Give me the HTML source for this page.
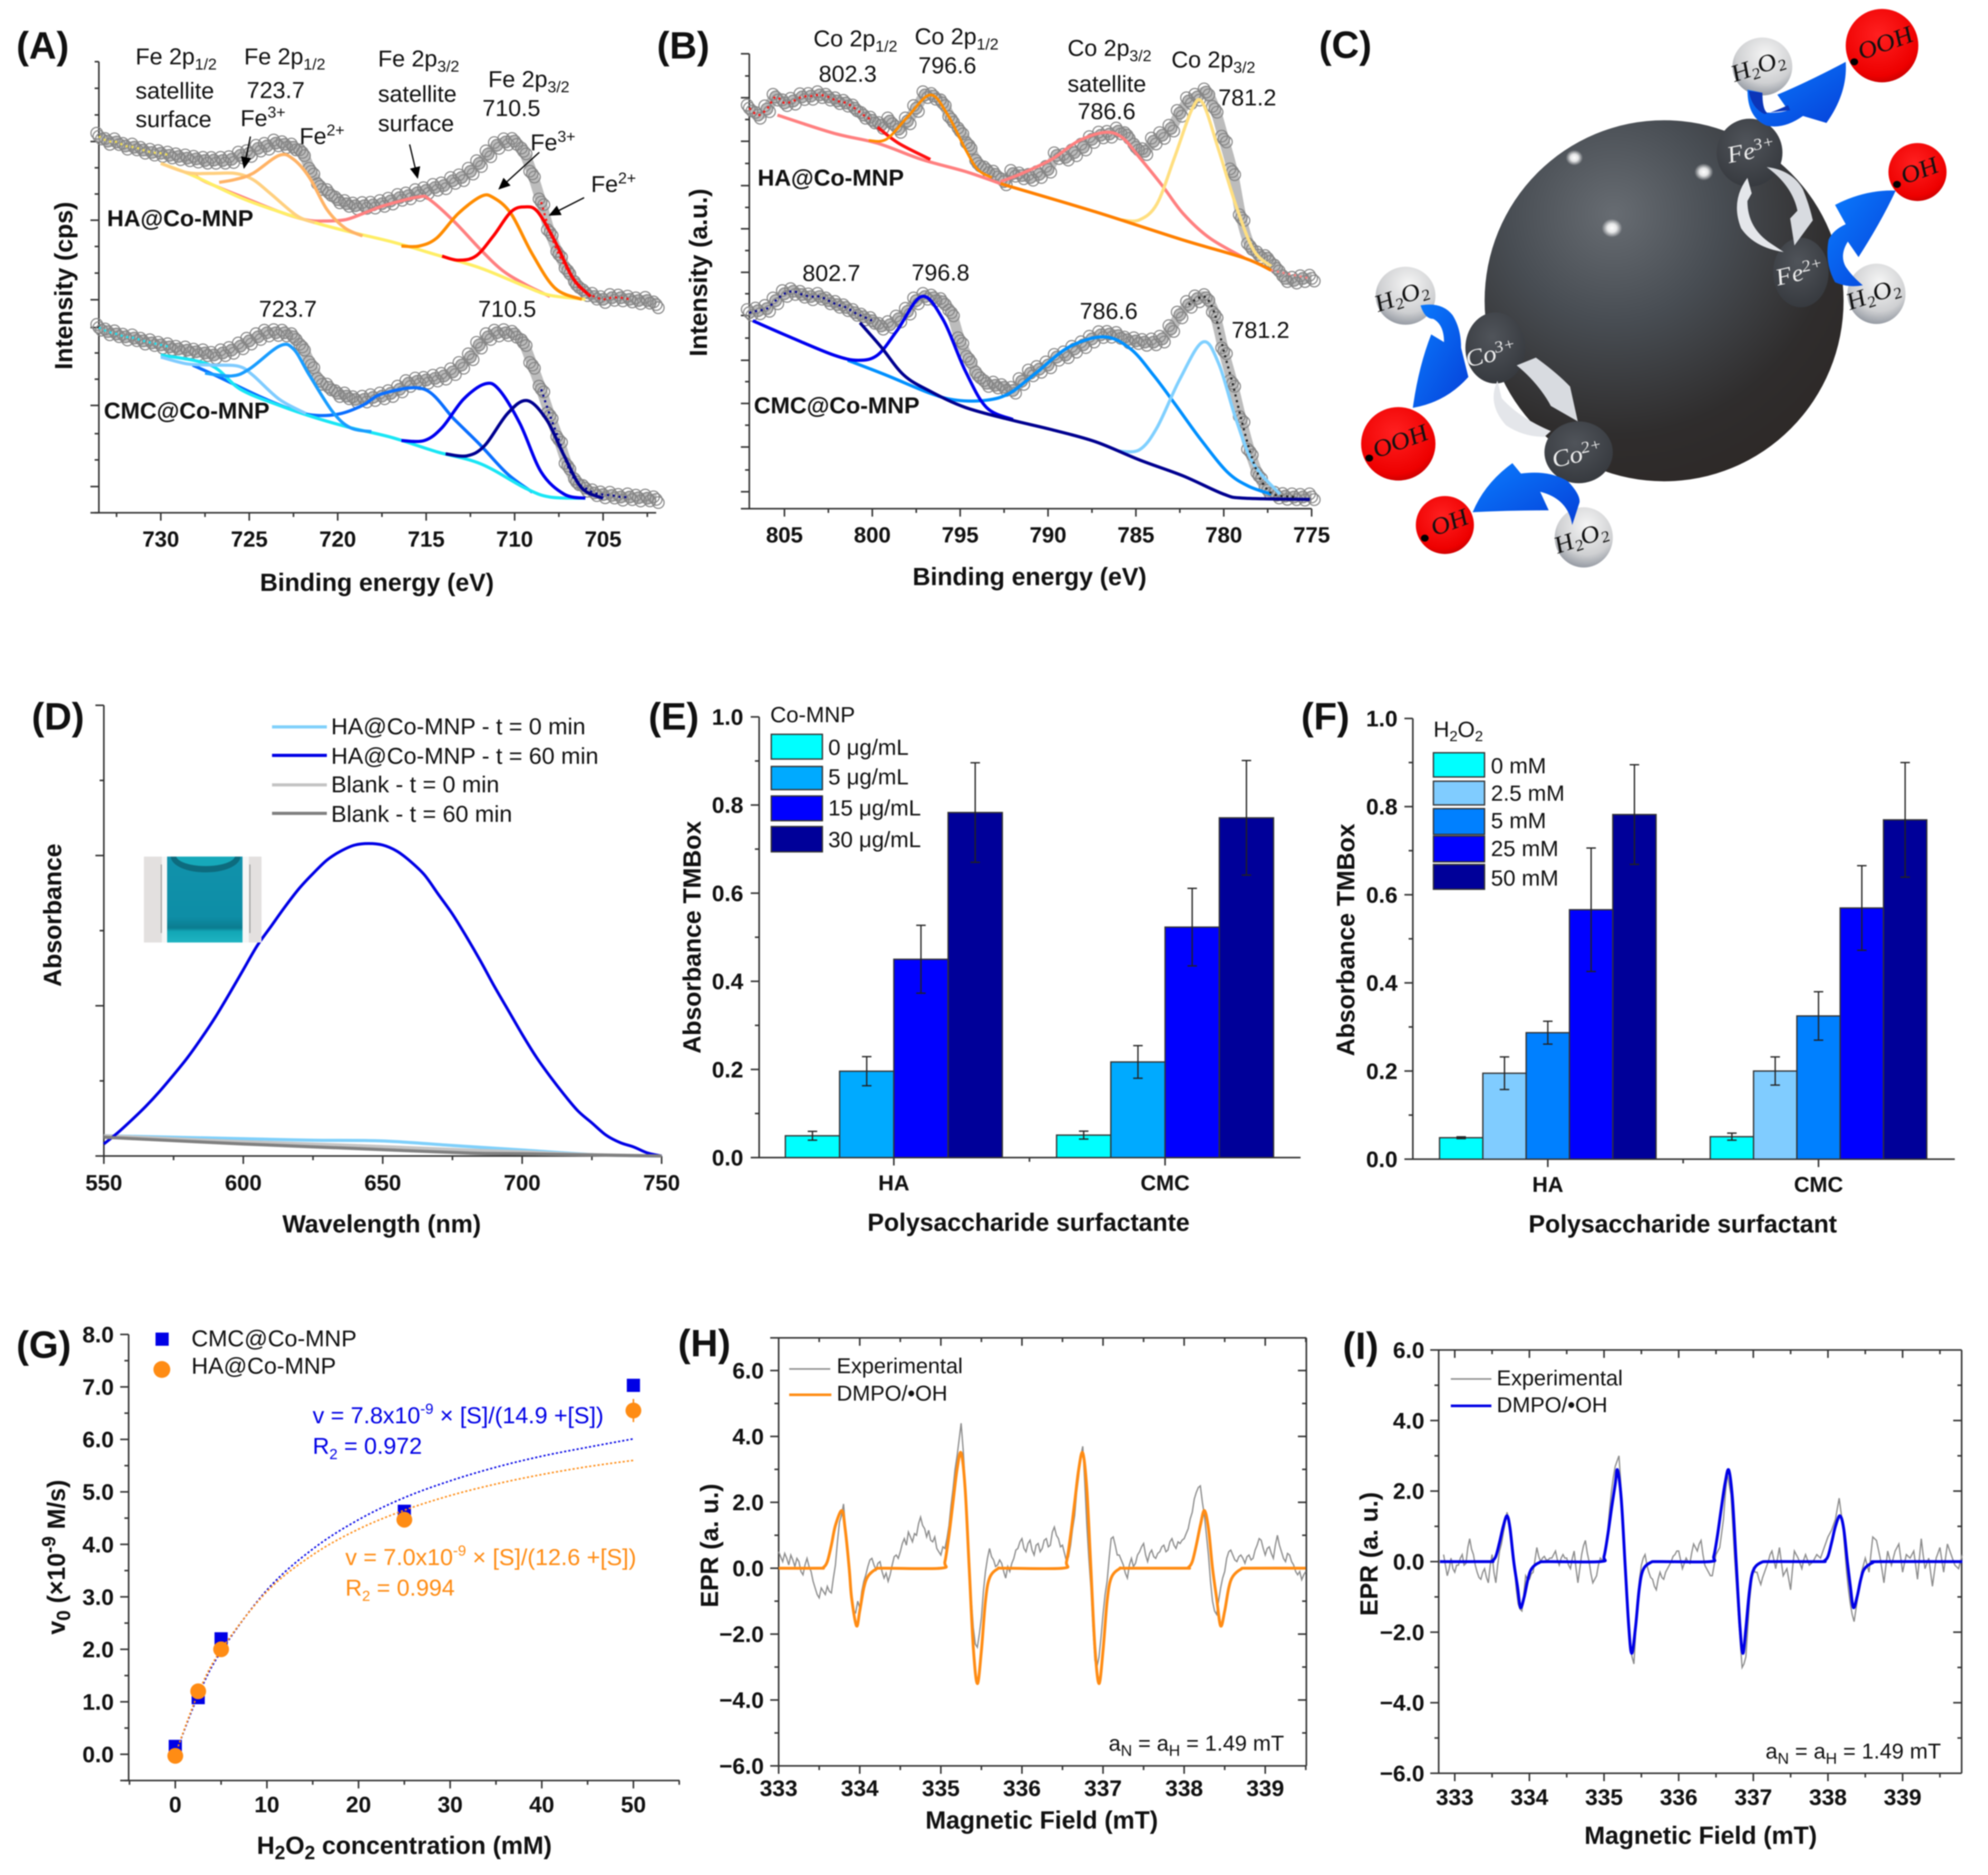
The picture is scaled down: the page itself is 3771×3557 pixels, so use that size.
<!DOCTYPE html>
<html lang="en">
<head>
<meta charset="utf-8">
<title>Co-MNP characterisation figure</title>
<style>
html,body{margin:0;padding:0;background:#fff}
svg{display:block;font-family:"Liberation Sans",sans-serif;filter:blur(1px)}
text{fill:#111}
.p{font-size:72px;font-weight:bold}
.l{font-size:44px}
.e{font-size:41px}
.b{font-size:47px;font-weight:bold}
.g{font-size:44px;font-weight:bold}
.s{font-family:"Liberation Serif",serif;font-style:italic;font-size:62px;text-anchor:middle}
</style>
</head>
<body>
<svg id="figure" width="3771" height="3557" viewBox="0 0 3771 3557" xmlns="http://www.w3.org/2000/svg">
<defs>
<marker id="ah" markerWidth="9" markerHeight="8" refX="8" refY="4" orient="auto"><path d="M0 0L9 4L0 8Z" fill="#000"/></marker>
<radialGradient id="bigS" cx="36%" cy="26%" r="85%"><stop offset="0" stop-color="#676c72"/><stop offset=".35" stop-color="#484d53"/><stop offset=".72" stop-color="#2f2d2d"/><stop offset="1" stop-color="#2e2826"/></radialGradient>
<radialGradient id="darkS" cx="45%" cy="35%" r="75%"><stop offset="0" stop-color="#50545a"/><stop offset="1" stop-color="#33363b"/></radialGradient>
<radialGradient id="redS" cx="45%" cy="35%" r="70%"><stop offset="0" stop-color="#ff2020"/><stop offset=".8" stop-color="#ee0000"/><stop offset="1" stop-color="#c00000"/></radialGradient>
<radialGradient id="whiteS" cx="55%" cy="30%" r="75%"><stop offset="0" stop-color="#f5f5f5"/><stop offset=".65" stop-color="#cfd0d2"/><stop offset="1" stop-color="#8a909a"/></radialGradient>
<radialGradient id="glow"><stop offset="0" stop-color="#fff"/><stop offset=".45" stop-color="#fff" stop-opacity=".85"/><stop offset="1" stop-color="#fff" stop-opacity="0"/></radialGradient>
<linearGradient id="blueA" x1="0" y1="0" x2="1" y2="1"><stop offset="0" stop-color="#0a7cff"/><stop offset="1" stop-color="#0640d8"/></linearGradient>
<linearGradient id="vial" x1="0" y1="0" x2="0" y2="1"><stop offset="0" stop-color="#1192ac"/><stop offset=".7" stop-color="#0e8ea6"/><stop offset=".83" stop-color="#0b7c90"/><stop offset=".87" stop-color="#12a6b6"/><stop offset="1" stop-color="#1fb4c2"/></linearGradient>
<clipPath id="insetClip"><rect x="273" y="1625" width="223" height="163"/></clipPath>
</defs>
<rect width="3771" height="3557" fill="#fff"/>

<text class="p" x="31" y="111">(A)</text>
<text class="p" x="1246" y="111">(B)</text>
<text class="p" x="2502" y="110">(C)</text>
<text class="p" x="60" y="1384">(D)</text>
<text class="p" x="1230" y="1384">(E)</text>
<text class="p" x="2468" y="1384">(F)</text>
<text class="p" x="31" y="2576">(G)</text>
<text class="p" x="1286" y="2573">(H)</text>
<text class="p" x="2547" y="2578">(I)</text>

<g id="panelA"></g>
<g>
<text class="l" x="257" y="122">Fe 2p<tspan font-size="30" dy="10">1/2</tspan></text>
<text class="l" x="257" y="187">satellite</text>
<text class="l" x="257" y="241">surface</text>
<text class="l" x="463" y="122">Fe 2p<tspan font-size="30" dy="10">1/2</tspan></text>
<text class="l" x="468" y="186">723.7</text>
<text class="l" x="456" y="239">Fe<tspan font-size="30" dy="-16">3+</tspan></text>
<text class="l" x="568" y="273">Fe<tspan font-size="30" dy="-16">2+</tspan></text>
<text class="l" x="717" y="126">Fe 2p<tspan font-size="30" dy="10">3/2</tspan></text>
<text class="l" x="717" y="193">satellite</text>
<text class="l" x="717" y="249">surface</text>
<text class="l" x="926" y="165">Fe 2p<tspan font-size="30" dy="10">3/2</tspan></text>
<text class="l" x="915" y="220">710.5</text>
<text class="l" x="1006" y="285">Fe<tspan font-size="30" dy="-16">3+</tspan></text>
<text class="l" x="1121" y="364">Fe<tspan font-size="30" dy="-16">2+</tspan></text>
<text class="g" x="203" y="429">HA@Co-MNP</text>
<text class="g" x="197" y="794">CMC@Co-MNP</text>
<text class="l" x="491" y="601">723.7</text>
<text class="l" x="907" y="601">710.5</text>
<line x1="475" y1="259" x2="463" y2="318" stroke="#000" stroke-width="2.5" marker-end="url(#ah)"/>
<line x1="777" y1="274" x2="792" y2="337" stroke="#000" stroke-width="2.5" marker-end="url(#ah)"/>
<line x1="1023" y1="289" x2="947" y2="358" stroke="#000" stroke-width="2.5" marker-end="url(#ah)"/>
<line x1="1108" y1="375" x2="1043" y2="408" stroke="#000" stroke-width="2.5" marker-end="url(#ah)"/>
<text class="b" x="715" y="1121" text-anchor="middle">Binding energy (eV)</text>
<text class="b" transform="translate(137,542) rotate(-90)" text-anchor="middle">Intensity (cps)</text>
</g>

<g id="panelB"></g>
<g>
<text class="l" x="1543" y="88">Co 2p<tspan font-size="30" dy="10">1/2</tspan></text>
<text class="l" x="1553" y="155">802.3</text>
<text class="l" x="1735" y="84">Co 2p<tspan font-size="30" dy="10">1/2</tspan></text>
<text class="l" x="1742" y="139">796.6</text>
<text class="l" x="2025" y="106">Co 2p<tspan font-size="30" dy="10">3/2</tspan></text>
<text class="l" x="2025" y="174">satellite</text>
<text class="l" x="2044" y="226">786.6</text>
<text class="l" x="2222" y="128">Co 2p<tspan font-size="30" dy="10">3/2</tspan></text>
<text class="l" x="2311" y="200">781.2</text>
<text class="g" x="1437" y="352">HA@Co-MNP</text>
<text class="l" x="1522" y="533">802.7</text>
<text class="l" x="1729" y="532">796.8</text>
<text class="l" x="2048" y="605">786.6</text>
<text class="l" x="2336" y="641">781.2</text>
<text class="g" x="1430" y="784">CMC@Co-MNP</text>
<text class="b" x="1953" y="1110" text-anchor="middle">Binding energy (eV)</text>
<text class="b" transform="translate(1341,517) rotate(-90)" text-anchor="middle">Intensity (a.u.)</text>
</g>

<g transform="translate(2500,0) scale(.8106,.7334)">
<ellipse cx="810" cy="778" rx="420" ry="467" fill="url(#bigS)"/>
<circle cx="600" cy="408" r="20" fill="url(#glow)"/>
<circle cx="903" cy="445" r="22" fill="url(#glow)"/>
<circle cx="688" cy="590" r="24" fill="url(#glow)"/>
<ellipse cx="1010" cy="395" rx="77" ry="88" fill="url(#darkS)"/>
<ellipse cx="1130" cy="705" rx="65" ry="90" fill="url(#darkS)"/>
<ellipse cx="415" cy="900" rx="70" ry="92" fill="url(#darkS)"/>
<ellipse cx="610" cy="1170" rx="80" ry="80" fill="url(#darkS)"/>
<ellipse cx="1040" cy="172" rx="70" ry="75" fill="url(#whiteS)"/>
<ellipse cx="1307" cy="760" rx="68" ry="78" fill="url(#whiteS)"/>
<ellipse cx="205" cy="765" rx="70" ry="75" fill="url(#whiteS)"/>
<ellipse cx="622" cy="1390" rx="68" ry="78" fill="url(#whiteS)"/>
<ellipse cx="1320" cy="118" rx="85" ry="95" fill="url(#redS)"/>
<ellipse cx="188" cy="1148" rx="87" ry="95" fill="url(#redS)"/>
<ellipse cx="1403" cy="445" rx="68" ry="75" fill="url(#redS)"/>
<ellipse cx="297" cy="1358" rx="68" ry="75" fill="url(#redS)"/>
<path d="M1005 232L1040 240Q1040 285 1052 292Q1085 292 1100 285L1075 245Q1150 210 1235 160Q1240 240 1190 318L1135 300Q1090 335 1050 325Q1005 305 1005 232Z" fill="url(#blueA)"/>
<path d="M1008 235L1040 240Q1040 280 1050 292L1105 285L1100 272Q1065 290 1045 295Q1015 280 1008 235Z" fill="#0b35b8"/>
<path d="M1275 738Q1240 745 1210 730Q1185 680 1195 620Q1205 595 1235 580L1210 530Q1280 490 1352 493Q1320 570 1265 665L1240 625Q1220 660 1235 690Q1250 715 1275 738Z" fill="url(#blueA)"/>
<path d="M240 790Q290 780 315 815Q335 850 335 900L352 975Q300 1040 222 1055Q235 950 265 865L295 885Q295 840 270 825Q250 825 240 790Z" fill="url(#blueA)"/>
<path d="M595 1358Q585 1290 520 1272L540 1320Q450 1320 362 1325Q390 1250 455 1198L475 1225Q540 1215 585 1245Q615 1280 612 1300Z" fill="url(#blueA)"/>
<path d="M1050 432Q1110 440 1135 490Q1150 530 1158 570L1115 635L1105 565L1122 545Q1110 480 1050 432Z" fill="#d8dbe0"/>
<path d="M1005 460Q965 520 990 590Q1020 640 1090 652L1060 630Q1005 590 1005 520L1015 500Z" fill="#e4e6ea"/>
<path d="M465 945L510 925Q560 965 590 1000L608 1090L545 1050L540 1040Q510 985 465 945Z" fill="#d8dbe0"/>
<path d="M420 985Q395 1045 440 1100Q480 1130 530 1130L545 1115Q470 1080 430 1030Z" fill="#e4e6ea"/>
<text class="s" transform="translate(1036,190) rotate(-20)">H<tspan font-size="40" dy="10">2</tspan><tspan dy="-10">O</tspan><tspan font-size="40" dy="10">2</tspan></text>
<text class="s" transform="translate(1306,780) rotate(-20)">H<tspan font-size="40" dy="10">2</tspan><tspan dy="-10">O</tspan><tspan font-size="40" dy="10">2</tspan></text>
<text class="s" transform="translate(202,785) rotate(-20)">H<tspan font-size="40" dy="10">2</tspan><tspan dy="-10">O</tspan><tspan font-size="40" dy="10">2</tspan></text>
<text class="s" transform="translate(622,1410) rotate(-20)">H<tspan font-size="40" dy="10">2</tspan><tspan dy="-10">O</tspan><tspan font-size="40" dy="10">2</tspan></text>
<circle cx="1255" cy="160" r="9" fill="#000"/>
<text class="s" transform="translate(1335,130) rotate(-22)">OOH</text>
<circle cx="120" cy="1185" r="9" fill="#000"/>
<text class="s" transform="translate(200,1160) rotate(-22)">OOH</text>
<circle cx="1355" cy="477" r="9" fill="#000"/>
<text class="s" transform="translate(1415,460) rotate(-22)">OH</text>
<circle cx="250" cy="1392" r="9" fill="#000"/>
<text class="s" transform="translate(315,1370) rotate(-22)">OH</text>
<text class="s" style="fill:#eee" transform="translate(1018,410) rotate(-12)">Fe<tspan font-size="42" dy="-20">3+</tspan></text>
<text class="s" style="fill:#eee" transform="translate(1132,725) rotate(-14)">Fe<tspan font-size="42" dy="-20">2+</tspan></text>
<text class="s" style="fill:#eee" transform="translate(410,935) rotate(-14)">Co<tspan font-size="42" dy="-20">3+</tspan></text>
<text class="s" style="fill:#eee" transform="translate(612,1195) rotate(-14)">Co<tspan font-size="42" dy="-20">2+</tspan></text>
</g>

<g id="panelD"></g>
<g clip-path="url(#insetClip)">
<rect x="273" y="1625" width="223" height="163" fill="#e3e0df"/>
<rect x="307" y="1625" width="10" height="163" fill="#f6f6f6"/>
<rect x="460" y="1625" width="12" height="163" fill="#f6f6f6"/>
<rect x="305" y="1640" width="2" height="130" fill="#999"/>
<rect x="473" y="1640" width="2" height="130" fill="#999"/>
<rect x="317" y="1625" width="143" height="163" fill="url(#vial)"/>
<ellipse cx="390" cy="1625" rx="66" ry="30" fill="#0d6b7e"/>
<ellipse cx="390" cy="1623" rx="56" ry="20" fill="#16a9ba"/>
</g>
<g>
<line x1="516" x2="620" y1="1379" y2="1379" stroke="#7fd0fb" stroke-width="6"/>
<line x1="516" x2="620" y1="1433" y2="1433" stroke="#0000e6" stroke-width="6"/>
<line x1="516" x2="620" y1="1489" y2="1489" stroke="#c4c4c4" stroke-width="6"/>
<line x1="516" x2="620" y1="1543" y2="1543" stroke="#808080" stroke-width="6"/>
<text class="l" x="628" y="1393">HA@Co-MNP - t = 0 min</text>
<text class="l" x="628" y="1449">HA@Co-MNP - t = 60 min</text>
<text class="l" x="628" y="1503">Blank  - t = 0 min</text>
<text class="l" x="628" y="1559">Blank  - t = 60 min</text>
<text class="b" x="724" y="2338" text-anchor="middle">Wavelength (nm)</text>
<text class="b" transform="translate(116,1736) rotate(-90)" text-anchor="middle">Absorbance</text>
</g>

<g id="panelE"></g>
<g>
<text class="l" style="font-size:42px" x="1461" y="1370">Co-MNP</text>
<rect x="1463" y="1393" width="97" height="47" fill="#00ffff" stroke="#333" stroke-width="2.5"/>
<rect x="1463" y="1454" width="97" height="44" fill="#00aaff" stroke="#333" stroke-width="2.5"/>
<rect x="1463" y="1510" width="97" height="47" fill="#0000ff" stroke="#333" stroke-width="2.5"/>
<rect x="1463" y="1568" width="97" height="48" fill="#000099" stroke="#333" stroke-width="2.5"/>
<text class="l" style="font-size:42px" x="1571" y="1432">0 μg/mL</text>
<text class="l" style="font-size:42px" x="1571" y="1488">5 μg/mL</text>
<text class="l" style="font-size:42px" x="1571" y="1547">15 μg/mL</text>
<text class="l" style="font-size:42px" x="1571" y="1607">30 μg/mL</text>
<text class="b" x="1951" y="2335" text-anchor="middle">Polysaccharide surfactante</text>
<text class="b" transform="translate(1329,1778) rotate(-90)" text-anchor="middle">Absorbance TMBox</text>
</g>

<g id="panelF"></g>
<g>
<text class="l" style="font-size:42px" x="2719" y="1398">H<tspan font-size="28" dy="8">2</tspan><tspan dy="-8">O</tspan><tspan font-size="28" dy="8">2</tspan></text>
<rect x="2719" y="1428" width="97" height="46" fill="#00ffff" stroke="#333" stroke-width="2.5"/>
<rect x="2719" y="1482" width="97" height="45" fill="#80ccff" stroke="#333" stroke-width="2.5"/>
<rect x="2719" y="1534" width="97" height="49" fill="#0080ff" stroke="#333" stroke-width="2.5"/>
<rect x="2719" y="1586" width="97" height="49" fill="#0000ff" stroke="#333" stroke-width="2.5"/>
<rect x="2719" y="1640" width="97" height="47" fill="#000099" stroke="#333" stroke-width="2.5"/>
<text class="l" style="font-size:42px" x="2828" y="1467">0 mM</text>
<text class="l" style="font-size:42px" x="2828" y="1519">2.5 mM</text>
<text class="l" style="font-size:42px" x="2828" y="1571">5 mM</text>
<text class="l" style="font-size:42px" x="2828" y="1624">25 mM</text>
<text class="l" style="font-size:42px" x="2828" y="1680">50 mM</text>
<text class="b" x="3192" y="2338" text-anchor="middle">Polysaccharide surfactant</text>
<text class="b" transform="translate(2569,1783) rotate(-90)" text-anchor="middle">Absorbance TMBox</text>
</g>

<g id="panelG"></g>
<g>
<rect x="295" y="2528" width="25" height="25" fill="#0000e6"/>
<circle cx="307" cy="2598" r="16" fill="#ff8c14"/>
<text class="l" x="363" y="2554">CMC@Co-MNP</text>
<text class="l" x="363" y="2606">HA@Co-MNP</text>
<text class="l" style="fill:#0000e6" x="593" y="2700">v = 7.8x10<tspan font-size="28" dy="-18">-9</tspan><tspan dy="18"> × [S]/(14.9 +[S])</tspan></text>
<text class="l" style="fill:#0000e6" x="593" y="2758">R<tspan font-size="28" dy="10">2</tspan><tspan dy="-10"> = 0.972</tspan></text>
<text class="l" style="fill:#ff8c14" x="655" y="2969">v = 7.0x10<tspan font-size="28" dy="-18">-9</tspan><tspan dy="18"> × [S]/(12.6 +[S])</tspan></text>
<text class="l" style="fill:#ff8c14" x="655" y="3027">R<tspan font-size="28" dy="10">2</tspan><tspan dy="-10"> = 0.994</tspan></text>
<text class="b" x="767" y="3517" text-anchor="middle">H<tspan font-size="36" dy="10">2</tspan><tspan dy="-10">O</tspan><tspan font-size="36" dy="10">2</tspan><tspan dy="-10"> concentration (mM)</tspan></text>
<text class="b" transform="translate(123,2954) rotate(-90)" text-anchor="middle">v<tspan font-size="36" dy="10">0</tspan><tspan dy="-10"> (×10</tspan><tspan font-size="36" dy="-18">-9</tspan><tspan dy="18"> M/s)</tspan></text>
</g>

<g id="panelH"></g>
<g>
<line x1="1497" x2="1575" y1="2597" y2="2597" stroke="#909090" stroke-width="3"/>
<line x1="1497" x2="1577" y1="2646" y2="2646" stroke="#ff8c14" stroke-width="5"/>
<text class="e" x="1587" y="2605">Experimental</text>
<text class="e" x="1587" y="2657">DMPO/•OH</text>
<text class="e" x="2103" y="3321">a<tspan font-size="30" dy="10">N</tspan><tspan dy="-10"> = a</tspan><tspan font-size="30" dy="10">H</tspan><tspan dy="-10"> = 1.49 mT</tspan></text>
<text class="b" x="1976" y="3469" text-anchor="middle">Magnetic Field (mT)</text>
<text class="b" transform="translate(1362,2932) rotate(-90)" text-anchor="middle">EPR (a. u.)</text>
</g>

<g id="panelI"></g>
<g>
<line x1="2752" x2="2829" y1="2616" y2="2616" stroke="#909090" stroke-width="3"/>
<line x1="2752" x2="2829" y1="2667" y2="2667" stroke="#0000e6" stroke-width="5"/>
<text class="e" x="2839" y="2628">Experimental</text>
<text class="e" x="2839" y="2679">DMPO/•OH</text>
<text class="e" x="3349" y="3336">a<tspan font-size="30" dy="10">N</tspan><tspan dy="-10"> = a</tspan><tspan font-size="30" dy="10">H</tspan><tspan dy="-10"> = 1.49 mT</tspan></text>
<text class="b" x="3226" y="3498" text-anchor="middle">Magnetic Field (mT)</text>
<text class="b" transform="translate(2613,2948) rotate(-90)" text-anchor="middle">EPR (a. u.)</text>
</g>
</svg>

<script>
/* ---------- Panel A: Fe 2p (intensity in arbitrary counts) ---------- */
const feStart = 733.5;
const feStep = -0.5;
const feHaData = [933,921,919,909,906,899,893,891,886,883,879,877,873,874,873,876,886,891,903,909,916,913,906,893,846,809,793,776,766,761,761,763,766,773,781,786,793,799,806,811,823,831,846,866,889,911,919,921,896,840,770,695,640,600,565,546,536,529,533,533,529,526,526,516];
const feCmcData = [459,449,443,436,433,426,421,416,411,406,403,399,396,391,396,403,413,426,436,446,446,446,436,411,366,326,311,296,289,281,281,286,289,296,306,321,326,329,333,339,349,366,386,416,436,446,446,443,421,366,306,241,181,116,76,61,49,45,43,39,39,37,36,33];
const feHaBaseBE = [730,728.2,725.5,723.3,721.3,719.3,716.9,714.4,711.9,709.4,708,706];
const feHaBaseI = [866,836,781,746,719,696,671,639,606,561,539,529];
const feHaSat32BE = [728.2,727.5,725.3,723.3,721.8,720.8,719.6,718.6,717.4,715.4,714.8,713.4,711.9,710.7,709.4,708];
const feHaSat32I = [841,821,781,746,726,723,726,741,761,783,776,721,651,601,566,536];
const feHaSat12BE = [730,728.5,727.2,725.8,724.8,723.8,722.3,721.3];
const feHaSat12I = [866,843,841,841,826,791,736,719];
const feHaP12BE = [726.7,725.8,724.8,723.3,722.5,721.6,720.6,719.6,718.6];
const feHaP12I = [819,826,841,886,876,831,751,706,686];
const feHaFe3BE = [716.4,715.4,714.4,713.2,711.9,711.2,710.2,709,707.7,706.2];
const feHaFe3I = [661,661,681,741,784,781,741,641,556,529];
const feHaFe2BE = [714.1,713.2,712.2,711.2,710.2,709.4,708.7,707.7,706.7,705.7];
const feHaFe2I = [636,626,636,686,746,758,746,671,581,536];
const feCmcBaseBE = [730,727.2,725.5,723.3,721.3,719.3,716.9,714.4,711.9,709.4,708,706];
const feCmcBaseI = [391,366,306,266,236,211,186,151,121,61,39,36];
const feCmcSat12BE = [730,728.5,727,725.6,724.8,723.3,721.8];
const feCmcSat12I = [386,369,366,363,341,281,246];
const feCmcP12BE = [727.5,726,725,723.3,722.5,721.6,720.3,719.3,718.1];
const feCmcP12I = [346,339,356,413,406,341,251,211,201];
const feCmcSat32BE = [728.2,726.7,724.3,722.3,721.1,719.8,718.6,717.4,715.1,713.4,711.9,710.4,709];
const feCmcSat32I = [366,336,286,251,241,246,266,296,306,231,166,96,51];
const feCmcFe3BE = [716.4,715.1,714.1,712.9,711.7,710.9,709.7,708.5,707.2,706];
const feCmcFe3I = [179,179,211,281,319,306,221,101,46,36];
const feCmcFe2BE = [713.9,712.7,711.7,710.4,709.3,708.2,707.2,706.2,705];
const feCmcFe2I = [146,141,166,246,278,231,141,61,36];
const feXMajor = [730,725,720,715,710,705];
const feXMinor = [732.5,727.5,722.5,717.5,712.5,707.5,702.5];
const feXLabels = ['730','725','720','715','710','705'];
const feYMajor = [65,266,459,528,725,920];
const feYMinor = [0,131,196,331,396,594,660,790,855,986,1052,1118];

/* ---------- Panel B: Co 2p ---------- */
const coStart = 807;
const coStep = -0.5;
const coHaData = [993,976,991,1021,1006,1011,1021,1023,1026,1021,1011,1006,993,976,963,951,961,941,961,993,1026,1023,1006,966,936,901,856,841,829,811,831,826,821,829,841,876,871,883,896,916,926,929,936,926,896,886,911,926,943,981,1011,1021,1033,991,916,836,721,651,629,621,596,571,566,571,571];
const coCmcData = [486,491,496,516,533,539,531,526,526,516,506,499,486,476,466,453,456,471,489,516,526,523,513,486,416,371,331,311,306,301,293,316,336,346,356,376,381,396,406,421,431,433,429,419,416,413,413,421,446,481,506,521,523,481,391,311,221,141,81,46,33,31,29,29,29];
const coHaPinkBaseBE = [805.4,802.2,799.7,797.2,794.7,792.7];
const coHaPinkBaseI = [976,931,906,866,836,806];
const coHaOrangeBaseBE = [792.7,787.3,782.3,778.8,777.3];
const coHaOrangeBaseI = [806,736,666,621,591];
const coHaTailBE = [777.3,775.1];
const coHaTailI = [591,571];
const coHaSatBE = [792.7,791.5,789.8,788.3,786.8,785.8,784.8,783.5,782.3,780.8,778.8];
const coHaSatI = [811,831,866,911,933,921,871,801,731,671,621];
const coHaP32BE = [785.8,784.8,783.8,782.8,781.8,781.2,780.3,779.3,778.3,777.3];
const coHaP32I = [716,716,756,871,991,1006,891,751,641,601];
const coHaSat12BE = [799.7,798.5,796.7];
const coHaSat12I = [946,906,866];
const coHaP12BE = [800.2,799.2,798,796.7,795.7,794.7,794,793.2];
const coHaP12I = [913,916,971,1026,976,891,841,821];
const coCmcNavyBE = [800.7,799.5,798.2,796.7,794.7,792.2,789.8,787.3,784.8,782.3,780,778.8,775.1];
const coCmcNavyI = [461,401,331,291,251,221,196,166,121,81,36,26,23];
const coCmcBlueBE = [806.8,804.7,802.2,800.8,799.7,798.6,797.2,796,794.7,793.5,792];
const coCmcBlueI = [466,426,381,368,381,441,526,471,341,251,221];
const coCmcSkyBE = [801.4,799.2,796.7,795.2,793.5,792.2,790.7,788.8,786.8,785.3,784,782.8,781.3,779.8,778.6,777.3];
const coCmcSkyI = [368,331,286,269,269,286,336,401,426,396,331,261,171,91,56,36];
const coCmcPaleBE = [786,784.8,783.8,782.5,781.2,780.3,779.3,778.3,776.8];
const coCmcPaleI = [143,146,201,321,413,361,221,111,36];
const coXMajor = [805,800,795,790,785,780,775];
const coXMinor = [802.5,797.5,792.5,787.5,782.5,777.5];
const coXLabels = ['805','800','795','790','785','780','775'];
const coYMajor = [42,153,261,368,479,586,694,801,911,1019,1128];
const coYMinor = [96,207,315,423,533,640,747,856,965,1073];

/* ---------- Panel D: absorbance spectra ---------- */
const absLambda = [550,555,560,565,570,575,580,585,590,595,600,605,610,615,620,625,630,635,640,645,650,655,660,665,670,675,680,685,690,695,700,705,710,715,720,725,730,735,740,745,750];
const absHa60 = [0.08,0.155,0.24,0.33,0.43,0.54,0.655,0.785,0.925,1.08,1.24,1.40,1.53,1.66,1.78,1.88,1.97,2.03,2.07,2.08,2.07,2.03,1.96,1.87,1.74,1.61,1.46,1.30,1.13,0.97,0.81,0.66,0.53,0.41,0.30,0.22,0.14,0.09,0.06,0.02,0];
const absSparseLambda = [550,600,625,650,675,700,725,750];
const absHa0 = [0.135,0.115,0.105,0.10,0.07,0.04,0.01,0];
const absBlankLambda = [550,600,640,680,700,720,750];
const absBlank0 = [0.135,0.095,0.07,0.04,0.028,0.012,0];
const absBlank60 = [0.125,0.08,0.05,0.02,0.015,0.008,0];
const absXMajor = [550,600,650,700,750];
const absXMinor = [575,625,675,725];
const absXLabels = ['550','600','650','700','750'];
const absYMajor = [0,1,2,3];
const absYMinor = [0.5,1.5,2.5];

/* ---------- Panels E, F: bars ---------- */
const barCats = ['HA','CMC'];
const barYMajor = [0,0.2,0.4,0.6,0.8,1.0];
const barYMinor = [0.1,0.3,0.5,0.7,0.9];
const barYLabels = ['0.0','0.2','0.4','0.6','0.8','1.0'];
const eHa = [0.0495,0.196,0.45,0.783];
const eCmc = [0.051,0.217,0.523,0.771];
const eHaErr = [0.01,0.033,0.077,0.113];
const eCmcErr = [0.009,0.037,0.088,0.13];
const eColors = ['#00ffff','#00aaff','#0000ff','#000099'];
const fHa = [0.0487,0.195,0.287,0.566,0.782];
const fCmc = [0.051,0.2,0.325,0.57,0.77];
const fHaErr = [0.002,0.037,0.026,0.14,0.113];
const fCmcErr = [0.008,0.032,0.055,0.096,0.13];
const fColors = ['#00ffff','#80ccff','#0080ff','#0000ff','#000099'];

/* ---------- Panel G: kinetics ---------- */
const kinConc = [0,2.5,5,25,50];
const kinCmc = [0.15,1.08,2.2,4.63,7.03];
const kinHa = [-0.03,1.2,2.0,4.47,6.55];
const kinCmcErr = [0.1,0.08,0.1,0.1,0.12];
const kinHaErr = [0.12,0.12,0.1,0.15,0.22];
const kinFitConc = [0,2.5,5,10,15,20,25,30,35,40,45,50];
const kinCmcFit = [0,1.12,1.96,3.13,3.91,4.47,4.89,5.21,5.47,5.68,5.85,6.01];
const kinHaFit = [0,1.16,1.99,3.1,3.8,4.29,4.65,4.93,5.15,5.33,5.48,5.6];
const kinXMajor = [0,10,20,30,40,50];
const kinXMinor = [-5,5,15,25,35,45,55];
const kinXLabels = ['0','10','20','30','40','50'];
const kinYMajor = [0,1,2,3,4,5,6,7,8];
const kinYMinor = [-0.5,0.5,1.5,2.5,3.5,4.5,5.5,6.5,7.5];
const kinYLabels = ['0.0','1.0','2.0','3.0','4.0','5.0','6.0','7.0','8.0'];

/* ---------- Panels H, I: EPR ---------- */
const eprXMajor = [333,334,335,336,337,338,339];
const eprXMinor = [333.5,334.5,335.5,336.5,337.5,338.5,339.5];
const eprXLabels = ['333','334','335','336','337','338','339'];
const eprYMajor = [-6,-4,-2,0,2,4,6];
const eprYMinor = [-5,-3,-1,1,3,5];
const eprYLabels = ['\u22126.0','\u22124.0','\u22122.0','0.0','2.0','4.0','6.0'];
const eprHStart = 333;
const eprIStart = 332.85;
const eprStep = 0.025;
const eprHExp = [.5,.35,.2,.45,.3,.1,.4,.25,.05,.3,.2,-.1,-.2,.1,.3,.05,-.1,-.4,-.6,-.8,-.9,-.6,-.7,-.8,-.55,-.7,-.75,-.3,.1,.8,1.4,1.6,1.95,1.2,.3,-.4,-1.0,-1.3,-1.35,-1.0,-1.2,-.7,-.4,-.2,.05,.25,.3,.1,-.05,.15,.2,-.1,-.3,-.15,-.4,-.2,.1,.35,.4,.3,.5,.75,.9,.7,1.1,.95,.8,1.05,1.0,1.35,1.55,1.3,1.2,.95,1.15,.85,.8,.95,.6,.5,.4,.65,.6,.9,1.3,1.9,2.4,3.0,3.4,3.9,4.4,3.6,2.6,1.3,.1,-.9,-1.8,-2.3,-2.4,-2.0,-1.5,-.7,-.1,.3,.6,.35,.25,.05,.1,.25,.15,-.1,-.3,.05,-.1,.15,.3,.55,.6,.8,.9,.6,.5,.75,.85,.55,.4,.7,.75,.5,.6,.85,.9,.65,.7,1.1,1.25,1.0,.9,.65,.7,.45,.2,.35,.7,1.2,1.6,2.3,2.8,3.4,3.7,2.6,1.3,.3,-.6,-1.8,-2.8,-3.0,-2.7,-2.1,-1.4,-.8,-.4,.3,.9,.95,.7,.4,.4,.25,.1,-.15,-.3,.1,.3,.05,.15,.4,.5,.65,.75,.4,.2,.45,.55,.35,.3,.45,.5,.65,.7,.5,.55,.8,.9,.7,.6,.8,.75,.85,.9,1.05,1.2,1.5,1.7,2.1,2.3,2.45,2.5,2.0,1.6,1.0,.4,-.4,-1.0,-1.3,-1.4,-1.0,-.6,-.3,-.1,.3,.5,.55,.4,.25,.2,.35,.4,.3,.15,.35,.4,.25,.3,.55,.7,.9,.85,.6,.4,.6,.65,.45,.3,.7,1.0,.7,.5,.3,.2,.45,.4,.2,.1,-.1,-.2,-.1,-.35,-.2,-.1];
const eprHFitX = [333,333.5,333.55,333.6,333.65,333.7,333.78,333.82,333.87,333.9,333.96,334,334.05,334.1,334.2,334.3,335,335.05,335.1,335.15,335.2,335.25,335.3,335.35,335.4,335.45,335.5,335.55,335.6,335.7,335.8,336.5,336.55,336.6,336.65,336.7,336.75,336.8,336.85,336.9,336.95,337,337.05,337.1,337.2,337.3,338,338.05,338.1,338.15,338.2,338.25,338.3,338.35,338.4,338.45,338.5,338.55,338.6,338.7,338.8,339.5];
const eprHFitY = [0,0,.02,.2,.7,1.3,1.75,1.2,0,-.9,-1.75,-1.3,-.6,-.25,-.03,0,0,.2,1,2,3,3.5,2.4,0,-2.4,-3.5,-2.5,-1,-.3,-.02,0,0,.2,1,2,3,3.5,2.4,0,-2.4,-3.5,-2.5,-1,-.3,-.02,0,0,.02,.2,.7,1.3,1.75,1.2,0,-.9,-1.75,-1.3,-.6,-.25,-.03,0,0];
const eprIExp = [.2,-.1,-.4,-.2,.1,-.2,-.3,-.1,-.1,.1,.2,-.1,-.05,.4,.65,.35,.2,-.1,-.3,-.45,-.5,-.3,-.2,-.45,-.6,-.1,.2,-.3,-.6,-.1,.3,.5,.8,1.1,1.4,1.2,.9,.3,-.2,-.8,-1.2,-1.35,-1.4,-.9,-.4,-.5,-.5,-.35,-.3,.05,.4,.15,0,.1,.15,.05,.05,.1,.1,.2,.3,.05,-.1,.1,.2,.1,.1,-.1,-.2,.1,.3,-.2,-.6,-.2,.2,.45,.6,.25,0,-.35,-.6,-.5,-.4,-.1,.1,.05,.1,.5,.9,1.5,2.0,2.4,2.7,2.85,3.0,2.2,1.3,.1,-.9,-1.7,-2.4,-2.7,-2.9,-2.0,-1.0,-.5,-.1,.1,.2,-.1,-.3,-.45,-.5,-.7,-.8,-.5,-.3,-.45,-.5,-.3,-.2,-.1,0,.15,.2,.3,.3,.05,-.2,-.05,.1,0,-.05,.25,.5,.4,.3,.5,.6,.2,-.1,-.2,-.3,-.4,-.4,-.1,.2,.3,.4,.8,1.2,1.9,2.5,2.2,1.9,1.0,.1,-.7,-1.5,-2.3,-3.0,-2.9,-2.7,-1.9,-1.1,-.6,-.2,-.3,-.3,-.5,-.65,-.45,-.3,-.15,0,.2,.3,.05,-.2,.1,.4,0,-.4,-.3,-.2,-.5,-.8,-.2,.3,.2,.1,-.05,-.2,.05,.2,.05,-.1,-.05,0,.1,.2,.15,.1,.25,.4,.55,.7,.8,.9,1.05,1.2,1.5,1.8,1.4,1.0,.35,-.3,-.8,-1.2,-1.5,-1.7,-1.35,-1.0,-.65,-.3,-.1,.1,-.1,-.3,.2,.7,.65,.6,.35,.1,-.25,-.6,-.15,.3,.1,-.1,.1,.3,.4,.5,.1,-.3,-.05,.2,.15,.1,.2,.3,-.1,-.5,.1,.65,.2,-.2,-.05,.1,-.3,-.7,-.3,.1,.25,.4,.05,-.3,.1,.5,.35,.2,.05,-.1,-.15,-.2,0,.2];
const eprIFitX = [332.8,333.45,333.5,333.55,333.6,333.65,333.7,333.74,333.79,333.84,333.88,333.93,333.98,334.03,334.13,334.25,334.95,335,335.05,335.1,335.15,335.18,335.23,335.28,335.33,335.37,335.42,335.47,335.52,335.62,335.75,336.42,336.47,336.52,336.57,336.62,336.67,336.72,336.77,336.82,336.86,336.9,336.95,337,337.1,337.25,337.9,337.95,338,338.05,338.1,338.16,338.21,338.26,338.3,338.34,338.39,338.44,338.49,338.6,338.7,339.8];
const eprIFitY = [0,0,.02,.15,.55,1.0,1.3,.95,0,-.7,-1.3,-1,-.5,-.2,-.03,0,0,.15,.75,1.5,2.2,2.6,1.8,0,-1.8,-2.6,-1.9,-.8,-.25,-.03,0,0,.15,.75,1.5,2.2,2.6,1.8,0,-1.8,-2.6,-1.9,-.8,-.25,-.03,0,0,.02,.15,.55,1.0,1.3,.95,0,-.7,-1.3,-1,-.5,-.2,-.03,0,0];

/* ---------- helpers ---------- */
const SVGNS = document.getElementById('figure').namespaceURI;
function mk(tag, attrs, parent) {
  const el = document.createElementNS(SVGNS, tag);
  for (const k in attrs) el.setAttribute(k, attrs[k]);
  parent.appendChild(el);
  return el;
}
function scale(d0, d1, r0, r1) { return v => r0 + (v - d0) * (r1 - r0) / (d1 - d0); }
function curve(xs, ys, sx, sy) {
  const p = xs.map((x, i) => [sx(x), sy(ys[i])]);
  let d = 'M' + p[0][0].toFixed(1) + ' ' + p[0][1].toFixed(1);
  for (let i = 0; i < p.length - 1; i++) {
    const a = p[i - 1] || p[i], b = p[i], c = p[i + 1], e = p[i + 2] || c;
    d += 'C' + (b[0] + (c[0] - a[0]) / 6).toFixed(1) + ' ' + (b[1] + (c[1] - a[1]) / 6).toFixed(1) + ' ' +
         (c[0] - (e[0] - b[0]) / 6).toFixed(1) + ' ' + (c[1] - (e[1] - b[1]) / 6).toFixed(1) + ' ' +
         c[0].toFixed(1) + ' ' + c[1].toFixed(1);
  }
  return d;
}
function series(g, name, xs, ys, sx, sy, color, width, dash) {
  const el = mk('path', {d: curve(xs, ys, sx, sy), fill: 'none', stroke: color, 'stroke-width': width, 'stroke-dasharray': dash || 'none', 'stroke-linejoin': 'round'}, g);
  
  
  return el;
}
function tick(g, x1, y1, x2, y2, w) {
  const el = mk('line', {x1: x1, y1: y1, x2: x2, y2: y2, stroke: '#333', 'stroke-width': w || 3}, g);
  
  
}
function label(g, txt, x, y, anchor, size, name) {
  const el = mk('text', {x: x, y: y, 'text-anchor': anchor, 'font-size': size || 42, 'font-weight': 'bold'}, g);
  el.textContent = txt;
  
  
}
function axes(g, o) {
  const xl = mk('line', {x1: o.x0 - 16, y1: o.y1, x2: o.x1, y2: o.y1, stroke: '#333', 'stroke-width': 3}, g);
  
  
  const yl = mk('line', {x1: o.x0, y1: o.y0, x2: o.x0, y2: o.y1, stroke: '#333', 'stroke-width': 3}, g);
  
  
  if (o.box) {
    const tl = mk('line', {x1: o.x0 - 16, y1: o.y0, x2: o.x1, y2: o.y0, stroke: '#333', 'stroke-width': 3}, g);
    
    
    const rl = mk('line', {x1: o.x1, y1: o.y0, x2: o.x1, y2: o.y1, stroke: '#333', 'stroke-width': 3}, g);
    
    
  }
  (o.xMajor || []).forEach((v, i) => {
    const x = o.sx(v);
    tick(g, x, o.y1, x, o.y1 + 15);
    if (o.box) tick(g, x, o.y0, x, o.y0 + 15);
    if (o.xLabels) label(g, o.xLabels[i], x, o.xBase, 'middle', o.fs);
  });
  (o.xMinor || []).forEach(v => {
    const x = o.sx(v);
    tick(g, x, o.y1, x, o.y1 + 8);
    if (o.box) tick(g, x, o.y0, x, o.y0 + 8);
  });
  (o.yMajor || []).forEach((v, i) => {
    const y = o.sy(v);
    tick(g, o.x0, y, o.x0 - 16, y);
    if (o.box) tick(g, o.x1, y, o.x1 - 16, y);
    if (o.yLabels) label(g, o.yLabels[i], o.yRight, y + 15, 'end', o.fs);
  });
  (o.yMinor || []).forEach(v => {
    const y = o.sy(v);
    tick(g, o.x0, y, o.x0 - 8, y);
    if (o.box) tick(g, o.x1, y, o.x1 - 8, y);
  });
}
function xpsData(g, name, start, step, vals, sx, sy) {
  const gridX = vals.map((_, i) => start + step * i);
  const band = mk('path', {d: curve(gridX, vals, sx, sy), fill: 'none', stroke: '#bcbcbc', 'stroke-width': 20, 'stroke-linejoin': 'round'}, g);
  
  
  vals.forEach((v, i) => {
    const x = sx(gridX[i]), y = sy(v);
    const off = i % 2 ? 1 : -1;
    const a = mk('circle', {cx: x, cy: y, r: 11, fill: 'none', stroke: '#858585', 'stroke-width': 2.2}, g);
    
    
    const b = mk('circle', {cx: x + off * 4, cy: y + off * 6, r: 11, fill: 'none', stroke: '#858585', 'stroke-width': 2.2}, g);
    
    
    const c = mk('circle', {cx: x - off * 5, cy: y - off * 5, r: 11, fill: 'none', stroke: '#858585', 'stroke-width': 2.2}, g);
    
    
  });
}
function envelope(g, name, start, step, vals, i0, i1, sx, sy, color) {
  const part = vals.slice(i0, i1 + 1);
  const xs = part.map((_, i) => start + step * (i0 + i));
  series(g, name, xs, part, sx, sy, color, 4, '4 7');
}
function barChart(g, o) {
  axes(g, {sx: o.sx, sy: o.sy, x0: o.x0, x1: o.x1, y0: o.sy(1), y1: o.sy(0), xMajor: [0, 1], xMinor: [0.5],
    yMajor: barYMajor, yMinor: barYMinor, yLabels: barYLabels, yRight: o.yRight, fs: 43});
  const band = o.sx(1) - o.sx(0);
  const w = band * o.frac;
  barCats.forEach((cat, ci) => {
    label(g, cat, o.sx(ci), o.catBase, 'middle', 41, 'category-label-' + cat.toLowerCase());
    const vals = o.vals[ci], errs = o.errs[ci];
    vals.forEach((v, j) => {
      const x = o.sx(ci) + (j - vals.length / 2) * w;
      const r = mk('rect', {x: x, y: o.sy(v), width: w, height: o.sy(0) - o.sy(v), fill: o.colors[j], stroke: '#333', 'stroke-width': 2.5}, g);
      
      
    });
    vals.forEach((v, j) => {
      const cx = o.sx(ci) + (j + 0.5 - vals.length / 2) * w;
      const path = 'M' + cx + ' ' + o.sy(v + errs[j]) + 'V' + o.sy(v - errs[j]) +
        'M' + (cx - 9) + ' ' + o.sy(v + errs[j]) + 'h18M' + (cx - 9) + ' ' + o.sy(v - errs[j]) + 'h18';
      const e = mk('path', {d: path, fill: 'none', stroke: '#222', 'stroke-width': 2.5}, g);
      
      
    });
  });
}
function eprPanel(g, o) {
  axes(g, {sx: o.sx, sy: o.sy, x0: o.x0, x1: o.x1, y0: o.y0, y1: o.y1, box: true, xMajor: eprXMajor, xMinor: eprXMinor, xLabels: eprXLabels,
    xBase: o.xBase, yMajor: eprYMajor, yMinor: eprYMinor, yLabels: eprYLabels, yRight: o.yRight, fs: 43});
  const xs = o.exp.map((_, i) => o.start + eprStep * i);
  const exp = mk('polyline', {points: xs.map((x, i) => o.sx(x).toFixed(1) + ',' + o.sy(o.exp[i]).toFixed(1)).join(' '), fill: 'none', stroke: '#8c8c8c', 'stroke-width': 2.5}, g);
  
  
  series(g, 'dmpo-oh-fit', o.fitX, o.fitY, o.sx, o.sy, o.color, 5.5);
}

/* ---------- Panel A ---------- */
(function () {
  const g = document.getElementById('panelA');
  const sx = scale(730, 705, 305, 1144);
  const sy = scale(0, 1118, 972.7, 117);
  axes(g, {sx, sy, x0: sx(733.5), x1: sx(702), y0: sy(1118), y1: sy(0), xMajor: feXMajor, xMinor: feXMinor, xLabels: feXLabels, xBase: 1037, yMajor: feYMajor, yMinor: feYMinor, fs: 42});
  xpsData(g, 'ha-fe-data', feStart, feStep, feHaData, sx, sy);
  xpsData(g, 'cmc-fe-data', feStart, feStep, feCmcData, sx, sy);
  series(g, 'ha-fe-satellite-32', feHaSat32BE, feHaSat32I, sx, sy, '#ff8080', 6);
  series(g, 'ha-fe-baseline', feHaBaseBE, feHaBaseI, sx, sy, '#ffee66', 6);
  series(g, 'ha-fe-satellite-12', feHaSat12BE, feHaSat12I, sx, sy, '#ffd080', 6);
  series(g, 'ha-fe-peak-12', feHaP12BE, feHaP12I, sx, sy, '#ffb366', 6);
  series(g, 'ha-fe3-peak', feHaFe3BE, feHaFe3I, sx, sy, '#ff8c00', 6);
  series(g, 'ha-fe2-peak', feHaFe2BE, feHaFe2I, sx, sy, '#ff0000', 6);
  envelope(g, 'ha-fe-envelope-left', feStart, feStep, feHaData, 0, 8, sx, sy, '#f4e050');
  envelope(g, 'ha-fe-envelope-right', feStart, feStep, feHaData, 50, 60, sx, sy, '#ff1010');
  series(g, 'cmc-fe-satellite-32', feCmcSat32BE, feCmcSat32I, sx, sy, '#0a6fff', 6);
  series(g, 'cmc-fe-baseline', feCmcBaseBE, feCmcBaseI, sx, sy, '#19e6f5', 6);
  series(g, 'cmc-fe-satellite-12', feCmcSat12BE, feCmcSat12I, sx, sy, '#80ccff', 6);
  series(g, 'cmc-fe-peak-12', feCmcP12BE, feCmcP12I, sx, sy, '#1a9dff', 6);
  series(g, 'cmc-fe3-peak', feCmcFe3BE, feCmcFe3I, sx, sy, '#0000f0', 6);
  series(g, 'cmc-fe2-peak', feCmcFe2BE, feCmcFe2I, sx, sy, '#000090', 6);
  envelope(g, 'cmc-fe-envelope-left', feStart, feStep, feCmcData, 0, 8, sx, sy, '#19e6f5');
  envelope(g, 'cmc-fe-envelope-right', feStart, feStep, feCmcData, 50, 60, sx, sy, '#000090');
})();

/* ---------- Panel B ---------- */
(function () {
  const g = document.getElementById('panelB');
  const sx = scale(805, 775, 1488, 2488);
  const sy = scale(0, 1128, 965, 102);
  axes(g, {sx, sy, x0: sx(807), x1: sx(775), y0: sy(1128), y1: sy(0), xMajor: coXMajor, xMinor: coXMinor, xLabels: coXLabels, xBase: 1029, yMajor: coYMajor, yMinor: coYMinor, fs: 42});
  xpsData(g, 'ha-co-data', coStart, coStep, coHaData, sx, sy);
  xpsData(g, 'cmc-co-data', coStart, coStep, coCmcData, sx, sy);
  series(g, 'ha-co-baseline-pink', coHaPinkBaseBE, coHaPinkBaseI, sx, sy, '#ff8080', 6);
  series(g, 'ha-co-tail', coHaTailBE, coHaTailI, sx, sy, '#ff8080', 4, '4 7');
  series(g, 'ha-co-satellite', coHaSatBE, coHaSatI, sx, sy, '#ff8080', 6);
  series(g, 'ha-co-peak-32', coHaP32BE, coHaP32I, sx, sy, '#ffdf80', 6);
  series(g, 'ha-co-satellite-12', coHaSat12BE, coHaSat12I, sx, sy, '#ff1010', 6);
  envelope(g, 'ha-co-envelope-left', coStart, coStep, coHaData, 0, 14, sx, sy, '#ff1010');
  series(g, 'ha-co-peak-12', coHaP12BE, coHaP12I, sx, sy, '#ff8c00', 5);
  series(g, 'ha-co-baseline-orange', coHaOrangeBaseBE, coHaOrangeBaseI, sx, sy, '#ff8000', 6);
  series(g, 'cmc-co-sky', coCmcSkyBE, coCmcSkyI, sx, sy, '#0090ff', 6);
  series(g, 'cmc-co-pale', coCmcPaleBE, coCmcPaleI, sx, sy, '#80d0ff', 6);
  series(g, 'cmc-co-blue', coCmcBlueBE, coCmcBlueI, sx, sy, '#0000f0', 6);
  series(g, 'cmc-co-navy', coCmcNavyBE, coCmcNavyI, sx, sy, '#000090', 6);
  envelope(g, 'cmc-co-envelope-left', coStart, coStep, coCmcData, 0, 14, sx, sy, '#000090');
  envelope(g, 'cmc-co-envelope-right', coStart, coStep, coCmcData, 50, 62, sx, sy, '#222222');
})();

/* ---------- Panel D ---------- */
(function () {
  const g = document.getElementById('panelD');
  const sx = scale(550, 750, 197, 1255);
  const sy = scale(0, 3, 2193, 1338);
  axes(g, {sx, sy, x0: 197, x1: 1255, y0: 1338, y1: 2193, xMajor: absXMajor, xMinor: absXMinor, xLabels: absXLabels, xBase: 2258, yMajor: absYMajor, yMinor: absYMinor, fs: 42});
  series(g, 'ha-t0-curve', absSparseLambda, absHa0, sx, sy, '#7fd0fb', 6);
  series(g, 'blank-t0-curve', absBlankLambda, absBlank0, sx, sy, '#c4c4c4', 6);
  series(g, 'ha-t60-curve', absLambda, absHa60, sx, sy, '#0000e6', 5.5);
  series(g, 'blank-t60-curve', absBlankLambda, absBlank60, sx, sy, '#808080', 6);
})();

/* ---------- Panel E ---------- */
barChart(document.getElementById('panelE'), {
  sx: scale(0, 1, 1695.5, 2210), sy: scale(0, 1, 2196, 1360), x0: 1440, x1: 2467, yRight: 1410, catBase: 2258,
  vals: [eHa, eCmc], errs: [eHaErr, eCmcErr], colors: eColors, frac: 0.2
});

/* ---------- Panel F ---------- */
barChart(document.getElementById('panelF'), {
  sx: scale(0, 1, 2936, 3449.5), sy: scale(0, 1, 2199, 1363), x0: 2680, x1: 3708, yRight: 2651, catBase: 2261,
  vals: [fHa, fCmc], errs: [fHaErr, fCmcErr], colors: fColors, frac: 0.16
});

/* ---------- Panel G ---------- */
(function () {
  const g = document.getElementById('panelG');
  const sx = scale(0, 50, 332.5, 1201.5);
  const sy = scale(0, 8, 3328, 2531.5);
  axes(g, {sx, sy, x0: 244, x1: 1289, y0: sy(8), y1: sy(-0.5), xMajor: kinXMajor, xMinor: kinXMinor, xLabels: kinXLabels, xBase: 3438, yMajor: kinYMajor, yMinor: kinYMinor, yLabels: kinYLabels, yRight: 216, fs: 43});
  kinConc.forEach((c, i) => {
    const x = sx(c), w = 25;
    const r = mk('rect', {x: x - w / 2, y: sy(kinCmc[i]) - w / 2, width: w, height: w, fill: '#0000e6'}, g);
    
    
    const e1 = mk('line', {x1: x, x2: x, y1: sy(kinCmc[i] + kinCmcErr[i]), y2: sy(kinCmc[i] - kinCmcErr[i]), stroke: '#0000e6', 'stroke-width': 3}, g);
    
    
  });
  series(g, 'cmc-fit-curve', kinFitConc, kinCmcFit, sx, sy, '#0000e6', 3, '4 4');
  series(g, 'ha-fit-curve', kinFitConc, kinHaFit, sx, sy, '#ff8c14', 3, '4 4');
  kinConc.forEach((c, i) => {
    const x = sx(c);
    const e2 = mk('line', {x1: x, x2: x, y1: sy(kinHa[i] + kinHaErr[i]), y2: sy(kinHa[i] - kinHaErr[i]), stroke: '#ff8c14', 'stroke-width': 3}, g);
    
    
    const p = mk('circle', {cx: x, cy: sy(kinHa[i]), r: 15, fill: '#ff8c14'}, g);
    
    
  });
})();

/* ---------- Panels H, I ---------- */
(function () {
  const sx = scale(333, 339, 1477, 2400);
  const sy = scale(0, 6, 2975, 2600);
  eprPanel(document.getElementById('panelH'), {sx, sy, x0: 1477, x1: 2478, y0: 2538, y1: sy(-6), xBase: 3407, yRight: 1449,
    exp: eprHExp, start: eprHStart, fitX: eprHFitX, fitY: eprHFitY, color: '#ff8c14'});
})();
(function () {
  const sx = scale(333, 339, 2759.5, 3609);
  const sy = scale(0, 6, 2962.5, 2561);
  eprPanel(document.getElementById('panelI'), {sx, sy, x0: 2729, x1: 3721, y0: 2561, y1: sy(-6), xBase: 3424, yRight: 2702,
    exp: eprIExp, start: eprIStart, fitX: eprIFitX, fitY: eprIFitY, color: '#0000e6'});
})();
</script>
</body>
</html>
